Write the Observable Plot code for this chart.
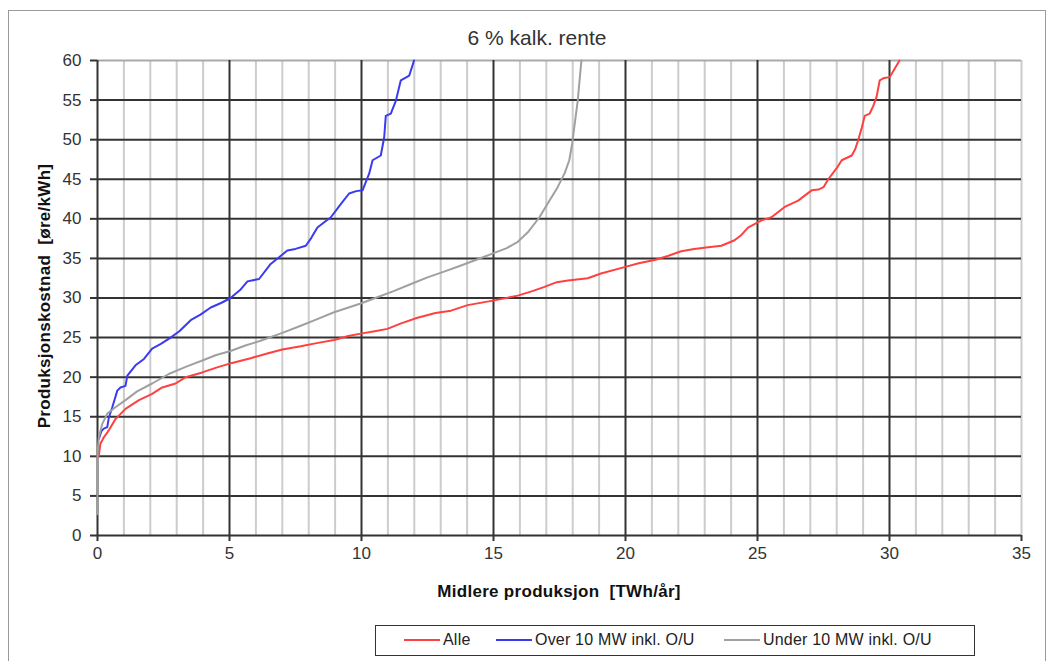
<!DOCTYPE html>
<html>
<head>
<meta charset="utf-8">
<script src="https://cdn.jsdelivr.net/npm/d3@7"></script>
<script src="https://cdn.jsdelivr.net/npm/@observablehq/plot@0.6"></script>
<style>
  html, body { margin: 0; padding: 0; background: #fff; }
  body { width: 1055px; height: 661px; position: relative; overflow: hidden; font-family: "Liberation Sans", Arial, sans-serif; }
  #frame { position: absolute; left: 8px; top: 10px; width: 1038px; height: 660px; border: 1px solid #9a9a9a; box-sizing: border-box; }
  #title { position: absolute; left: 537px; top: 38px; transform: translate(-50%, -50%); white-space: pre; font-size: 21px; color: #333; }
  #chart { position: absolute; left: 0; top: 0; }
  #ylab { position: absolute; left: 45px; top: 296px; transform: translate(-50%, -50%) rotate(-90deg); white-space: pre; font-weight: bold; font-size: 17px; letter-spacing: 0.3px; color: #111; }
  #xlab { position: absolute; left: 559px; top: 592px; transform: translate(-50%, -50%); white-space: pre; font-weight: bold; font-size: 17px; letter-spacing: 0.3px; color: #111; }
  #legend { position: absolute; left: 375px; top: 625px; width: 600px; height: 31px; border: 1.5px solid #333; box-sizing: border-box; font-size: 16px; letter-spacing: 0.2px; color: #222; }
  .item { display: flex; align-items: center; position: absolute; top: 5px; white-space: pre; }
  .sw { width: 36px; height: 2px; margin-right: 3px; }
</style>
</head>
<body>
<div id="frame"></div>
<div id="title">6 % kalk. rente</div>
<div id="chart"></div>
<div id="ylab">Produksjonskostnad  [øre/kWh]</div>
<div id="xlab">Midlere produksjon  [TWh/år]</div>
<div id="legend"></div>
<script>
// Tick values
const xTicks = [0, 5, 10, 15, 20, 25, 30, 35];
const yTicks = [0, 5, 10, 15, 20, 25, 30, 35, 40, 45, 50, 55, 60];
const xMinor = d3.range(1, 36).filter(v => v % 5 !== 0 || v === 35);
const xMajor = [0, 5, 10, 15, 20, 25, 30];
const yMajor = [0, 5, 10, 15, 20, 25, 30, 35, 40, 45, 50, 55];

// Series names
const seriesNames = ["Alle", "Over 10 MW inkl. O/U", "Under 10 MW inkl. O/U"];
const seriesColors = ["#ff4040", "#3a3af0", "#a0a0a0"];

// Alle  [TWh/år, øre/kWh]
const alle = [
  [0.0, 10.0], [0.05, 10.1], [0.11, 11.6], [0.24, 12.4], [0.43, 13.3], [0.68, 14.7], [1.06, 16.0],
  [1.57, 17.1], [2.07, 17.9], [2.45, 18.7], [2.96, 19.2], [3.34, 20.0], [3.97, 20.6], [4.5, 21.2],
  [5.1, 21.8], [5.8, 22.4], [6.43, 23.0], [7.0, 23.5], [7.7, 23.9], [8.3, 24.3], [8.96, 24.7],
  [9.5, 25.2], [9.97, 25.5], [10.5, 25.8], [10.98, 26.1], [11.5, 26.8], [12.12, 27.5], [12.8, 28.1],
  [13.39, 28.4], [14.02, 29.1], [15.03, 29.7], [15.92, 30.3], [16.5, 30.9], [16.93, 31.4],
  [17.4, 32.0], [17.82, 32.2], [18.57, 32.5], [19.07, 33.1], [19.96, 33.9], [20.5, 34.4],
  [21.1, 34.8], [21.6, 35.3], [22.11, 35.9], [22.6, 36.2], [23.13, 36.4], [23.63, 36.6],
  [24.13, 37.3], [24.4, 38.0], [24.64, 38.9], [25.15, 39.8], [25.53, 40.2], [26.03, 41.5],
  [26.54, 42.3], [27.05, 43.6], [27.31, 43.7], [27.5, 44.0], [27.68, 45.0], [28.0, 46.4],
  [28.19, 47.4], [28.57, 48.0], [28.7, 48.8], [28.81, 49.9], [28.95, 51.5], [29.06, 53.0],
  [29.25, 53.3], [29.38, 54.2], [29.51, 55.4], [29.63, 57.5], [29.8, 57.8], [30.01, 57.9],
  [30.2, 59.0], [30.38, 60.0]
];

// Over 10 MW inkl. O/U
const over10 = [
  [0.05, 12.2], [0.15, 13.2], [0.24, 13.5], [0.37, 13.7], [0.43, 14.9], [0.56, 16.2], [0.75, 18.3],
  [0.87, 18.7], [1.06, 18.9], [1.13, 20.2], [1.44, 21.5], [1.76, 22.3], [2.07, 23.6], [2.4, 24.2],
  [2.77, 25.0], [3.1, 25.8], [3.53, 27.2], [3.9, 27.9], [4.29, 28.8], [4.7, 29.4], [5.04, 30.0],
  [5.4, 31.0], [5.68, 32.1], [6.12, 32.4], [6.56, 34.3], [6.9, 35.2], [7.19, 36.0], [7.5, 36.2],
  [7.89, 36.6], [8.1, 37.6], [8.33, 38.9], [8.6, 39.6], [8.84, 40.2], [9.2, 41.8], [9.53, 43.2],
  [9.8, 43.5], [10.04, 43.6], [10.29, 45.7], [10.42, 47.4], [10.73, 48.0], [10.86, 50.3],
  [10.92, 53.0], [11.11, 53.3], [11.3, 54.9], [11.49, 57.5], [11.81, 58.1], [11.99, 60.0]
];

// Under 10 MW inkl. O/U
const under10 = [
  [0.0, 2.7], [0.0, 10.0], [0.02, 11.2], [0.05, 12.4], [0.18, 14.1], [0.37, 15.4], [0.68, 16.2],
  [1.06, 17.1], [1.5, 18.2], [2.07, 19.2], [2.7, 20.4], [3.34, 21.3], [3.97, 22.1], [4.5, 22.8],
  [5.04, 23.3], [5.6, 24.0], [6.18, 24.6], [7.0, 25.6], [7.7, 26.5], [8.3, 27.3], [8.96, 28.2],
  [9.97, 29.3], [10.6, 30.1], [11.24, 30.9], [11.9, 31.8], [12.5, 32.6], [13.1, 33.3],
  [13.77, 34.1], [14.4, 34.9], [15.03, 35.7], [15.5, 36.3], [15.92, 37.1], [16.3, 38.3],
  [16.74, 40.2], [17.1, 42.2], [17.43, 44.0], [17.7, 45.8], [17.87, 47.4], [17.98, 49.5],
  [18.06, 51.6], [18.19, 54.9], [18.26, 57.5], [18.33, 60.0]
];

const seriesData = [alle, over10, under10];
const rows = seriesData.flatMap((arr, i) => arr.map(([x, y]) => ({x, y, s: seriesNames[i]})));

const plot = Plot.plot({
  width: 1055,
  height: 600,
  marginTop: 60,
  marginBottom: 65,
  marginLeft: 97,
  marginRight: 34,
  style: { fontFamily: "Liberation Sans, Arial, sans-serif", fontSize: "17px", color: "#333", background: "transparent" },
  x: { domain: [0, 35] },
  y: { domain: [0, 60] },
  color: { domain: seriesNames, range: seriesColors },
  marks: [
    Plot.ruleX(xMinor, { stroke: "#cccccc", strokeWidth: 2 }),
    Plot.ruleY([60], { stroke: "#aaaaaa", strokeWidth: 2 }),
    Plot.ruleY(yMajor, { stroke: "#333333", strokeWidth: 2 }),
    Plot.ruleX(xMajor, { stroke: "#333333", strokeWidth: 2 }),
    Plot.axisX({ ticks: xTicks, tickSize: 6, tickPadding: 5, label: null, stroke: "#333", strokeWidth: 2, fontSize: 17 }),
    Plot.axisY({ ticks: yTicks, tickSize: 7, tickPadding: 9, label: null, stroke: "#333", strokeWidth: 2, fontSize: 17 }),
    Plot.line(rows, { x: "x", y: "y", z: "s", stroke: "s", strokeWidth: 2, curve: "linear" })
  ]
});
document.getElementById("chart").appendChild(plot);

// Legend
const legend = document.getElementById("legend");
const lefts = [28, 120, 348];
seriesNames.forEach((n, i) => {
  const it = document.createElement("div");
  it.className = "item";
  it.style.left = lefts[i] + "px";
  const sw = document.createElement("div");
  sw.className = "sw";
  sw.style.background = seriesColors[i];
  const t = document.createElement("span");
  t.textContent = n;
  it.appendChild(sw); it.appendChild(t);
  legend.appendChild(it);
});
</script>
</body>
</html>
